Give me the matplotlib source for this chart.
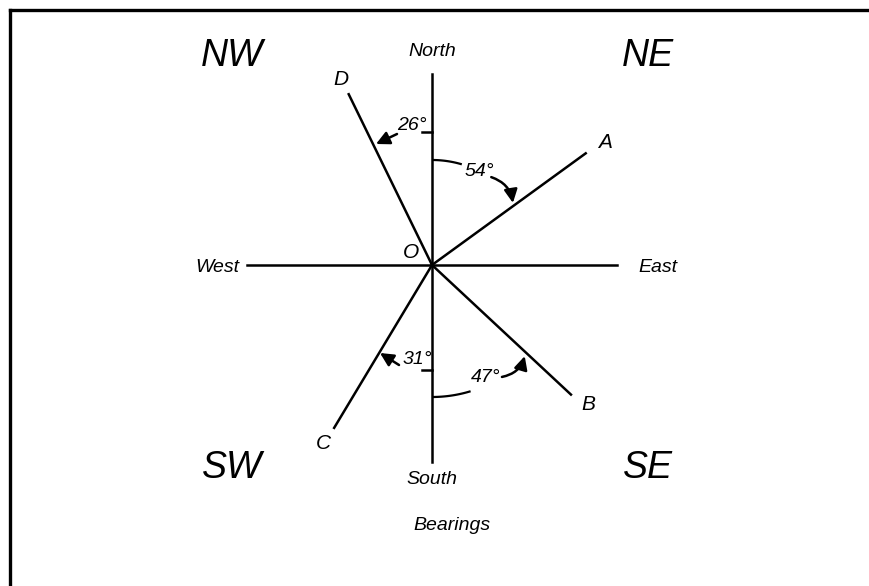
import numpy as np
import matplotlib.pyplot as plt

# bearing lines, measured clockwise from North
line_names = ["A", "B", "C", "D"]
line_bearings = [54, 133, 211, 334]

# angles marked on the diagram, and the reference direction they are measured from
angle_values = [54, 47, 31, 26]
angle_refs = ["North", "South", "South", "North"]

compass_names = ["North", "East", "South", "West"]
quadrant_names = ["NE", "SE", "SW", "NW"]

W, H = 870, 586
CX, CY = 432, 265
FONT = "Liberation Sans"


def pt(bearing, r):
    b = np.radians(bearing)
    return CX + r * np.sin(b), CY - r * np.cos(b)


def arc(ax, b0, b1, r):
    bs = np.linspace(b0, b1, 40)
    xs, ys = pt(bs, r)
    ax.plot(xs, ys, color="black", lw=1.6, solid_capstyle="butt")


def arrow(ax, start, end, rad=0.0):
    ax.annotate("", xy=end, xytext=start,
                arrowprops=dict(arrowstyle="-|>,head_length=0.8,head_width=0.4",
                                color="black", lw=1.8, mutation_scale=10,
                                shrinkA=0, shrinkB=0,
                                connectionstyle=f"arc3,rad={rad}"))


def label(ax, x, y, s, size):
    ax.text(x, y, s, fontsize=size, style="italic", family=FONT,
            ha="center", va="center")


fig = plt.figure(figsize=(W / 100, H / 100), dpi=100)
ax = fig.add_axes([0, 0, 1, 1])
ax.set_xlim(0, W)
ax.set_ylim(H, 0)
ax.axis("off")

# frame (only top and left edges show)
ax.plot([10, 10], [10, H], color="black", lw=2.4)
ax.plot([10, W], [10, 10], color="black", lw=2.4)

# compass cross
ax.plot([CX, CX], [74, 462], color="black", lw=1.8)
ax.plot([247, 617], [CY, CY], color="black", lw=1.8)

# bearing lines
ends = {}
for name, b in zip(line_names, line_bearings):
    x, y = pt(b, 190)
    ax.plot([CX, x], [CY, y], color="black", lw=1.8)
    ends[name] = (x, y)

label_off = {"A": (19, -11), "B": (17, 10), "C": (-11, 16), "D": (-8, -15)}
for name in line_names:
    x, y = ends[name]
    dx, dy = label_off[name]
    label(ax, x + dx, y + dy, name, 15)

label(ax, 411, 253, "O", 15)

# compass labels
label(ax, 432, 52, compass_names[0], 14)
label(ax, 658, 268, compass_names[1], 14)
label(ax, 432, 480, compass_names[2], 14)
label(ax, 217, 268, compass_names[3], 14)

label(ax, 648, 56, quadrant_names[0], 27)
label(ax, 648, 468, quadrant_names[1], 27)
label(ax, 232, 468, quadrant_names[2], 27)
label(ax, 232, 56, quadrant_names[3], 27)

label(ax, 452, 525, "Bearings", 14)

# 54 deg: arc from North to A
a = angle_values[0]
arc(ax, 0, 16.5, 105)
label(ax, 479, 171, f"{a}°", 14)
arrow(ax, pt(34, 106), pt(a - 1.5, 102), rad=-0.3)

# 47 deg: arc from South to B
a = angle_values[1]
arc(ax, 180, 163, 132)
label(ax, 486, 378, f"{a}°", 14)
arrow(ax, pt(148, 132), pt(180 - a + 1.5, 130), rad=0.3)

# 31 deg: tick on South line, arrow to C
a = angle_values[2]
ax.plot([422, CX], [370, 370], color="black", lw=1.8)
label(ax, 417, 360, f"{a}°", 14)
arrow(ax, (399, 365), (380, 353))

# 26 deg: tick on North line, arrow to D
a = angle_values[3]
ax.plot([422, CX], [132, 132], color="black", lw=1.8)
label(ax, 412, 125, f"{a}°", 14)
arrow(ax, (397, 134), (376, 144))

fig.savefig("out.png", dpi=100)
